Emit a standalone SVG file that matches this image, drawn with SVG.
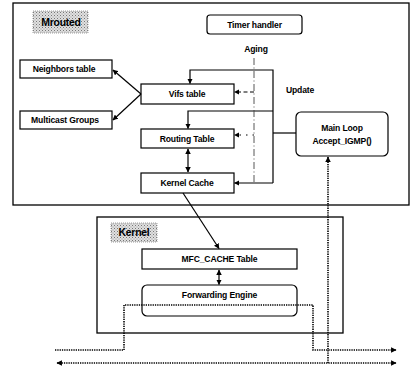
<svg xmlns="http://www.w3.org/2000/svg" width="411" height="371" viewBox="0 0 411 371">
<style>
.box{fill:#fff;stroke:#000;stroke-width:1.2}
.frame{fill:none;stroke:#000;stroke-width:1.3}
.lbl{fill:url(#stip);stroke:#888;stroke-width:0.8;stroke-dasharray:1 1}
text{font-family:"Liberation Sans",Arial,sans-serif;font-weight:bold;fill:#000;text-anchor:middle}
.t{font-size:8.6px;letter-spacing:-0.15px}
.big{font-size:10.5px;letter-spacing:-0.3px}
.ln{fill:none;stroke:#000;stroke-width:1.2}
.dash{fill:none;stroke:#000;stroke-width:1;stroke-dasharray:4 2.5}
.dot{fill:none;stroke:#000;stroke-width:1.6;stroke-dasharray:1.3 1}
.aging{fill:none;stroke:#444;stroke-width:0.9;stroke-dasharray:7 2.5 1 2.5}
.sparse{fill:none;stroke:#000;stroke-width:1;stroke-dasharray:1.5 5}
</style>
<defs>
<pattern id="stip" width="3" height="3" patternUnits="userSpaceOnUse">
<rect width="3" height="3" fill="#e0e0e0"/>
<rect x="0" y="0" width="1" height="1" fill="#777"/>
<rect x="1.5" y="1.5" width="1" height="1" fill="#999"/>
</pattern>
<marker id="ah" viewBox="0 0 10 10" refX="9" refY="5" markerWidth="5.5" markerHeight="5.5" markerUnits="userSpaceOnUse" orient="auto-start-reverse">
<path d="M0,0 L10,5 L0,10 z" fill="#000"/>
</marker>
</defs>

<g id="mrouted">
<rect class="frame" x="13" y="3" width="396" height="202"/>
<rect class="lbl" x="33" y="11" width="55" height="22"/>
<text class="big" x="61" y="26">Mrouted</text>
</g>

<g id="kernel">
<rect class="frame" x="97" y="217" width="246" height="116"/>
<rect class="lbl" x="111" y="223" width="46" height="19"/>
<text class="big" x="134" y="236">Kernel</text>
</g>

<g id="timer-handler">
<rect class="box" x="207" y="15" width="95" height="19" rx="3"/>
<text class="t" x="254.5" y="27.5">Timer handler</text>
</g>

<g id="neighbors-table">
<rect class="box" x="20" y="60" width="92" height="18"/>
<text class="t" x="64" y="72">Neighbors table</text>
</g>

<g id="multicast-groups">
<rect class="box" x="20" y="111" width="92" height="18"/>
<text class="t" x="65" y="123">Multicast Groups</text>
</g>

<g id="vifs-table">
<rect class="box" x="141" y="84" width="93" height="20"/>
<text class="t" x="187" y="97">Vifs table</text>
</g>

<g id="routing-table">
<rect class="box" x="141" y="129" width="93" height="19"/>
<text class="t" x="187" y="141.5">Routing Table</text>
</g>

<g id="kernel-cache">
<rect class="box" x="141" y="173" width="93" height="20"/>
<text class="t" x="187" y="186">Kernel Cache</text>
</g>

<g id="main-loop">
<rect class="box" x="296" y="112" width="92" height="44" rx="5"/>
<text class="t" x="342" y="131">Main Loop</text>
<text class="t" x="342" y="144">Accept_IGMP()</text>
</g>

<g id="mfc-cache-table">
<rect class="box" x="142" y="249" width="155" height="20"/>
<text class="t" x="219.5" y="262">MFC_CACHE Table</text>
</g>

<g id="forwarding-engine">
<rect class="box" x="142" y="285" width="155" height="31" rx="5"/>
<text class="t" x="219.5" y="298">Forwarding Engine</text>
</g>

<g id="labels">
<text class="t" x="256" y="52">Aging</text>
<text class="t" x="300" y="93">Update</text>
</g>

<g id="connectors">
<line class="ln" x1="141" y1="94" x2="113" y2="70" marker-end="url(#ah)"/>
<line class="ln" x1="141" y1="94" x2="113" y2="120" marker-end="url(#ah)"/>
<line class="ln" x1="188" y1="149" x2="188" y2="172" marker-start="url(#ah)" marker-end="url(#ah)"/>
<path class="ln" d="M296,133 H273"/>
<path class="ln" d="M273,183 V70 H190 V83.5" marker-end="url(#ah)"/>
<path class="ln" d="M273,111 H188 V128.5" marker-end="url(#ah)"/>
<path class="ln" d="M273,183 H234.5" marker-end="url(#ah)"/>
<path class="aging" d="M254,58 V183"/>
<path class="dash" d="M254,92 H234.5" marker-end="url(#ah)"/>
<path class="sparse" d="M254,135 H234.5" marker-end="url(#ah)"/>
<line class="ln" x1="183" y1="193" x2="219" y2="248.5" marker-end="url(#ah)"/>
<line class="ln" x1="219" y1="270" x2="219" y2="284.5" marker-start="url(#ah)" marker-end="url(#ah)"/>
<path class="dot" d="M55,350 H124 V305 H313 V350 H396" marker-end="url(#ah)"/>
<path class="dot" d="M57,363 H396" marker-start="url(#ah)" marker-end="url(#ah)"/>
<path class="dot" d="M328,363 V157" marker-end="url(#ah)"/>
</g>
</svg>
